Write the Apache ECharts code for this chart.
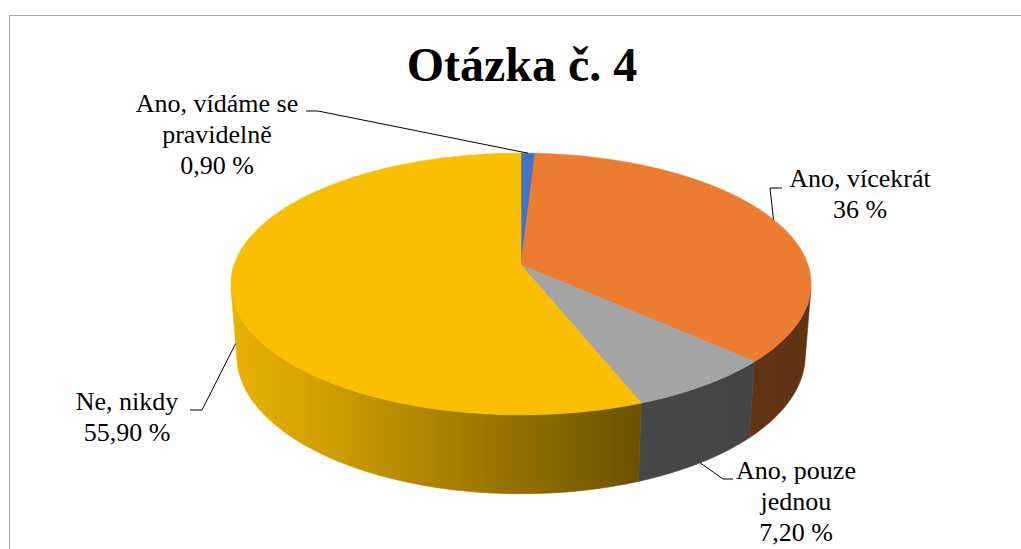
<!DOCTYPE html>
<html><head><meta charset="utf-8">
<script src="https://cdn.jsdelivr.net/npm/echarts@6/dist/echarts.min.js"></script>
<style>html,body{margin:0;padding:0;background:#fff}#c{width:1021px;height:549px}</style>
</head><body><div id="c"></div>
<script>
// ---- data ----
const categories = ['Ano, vídáme se pravidelně', 'Ano, vícekrát', 'Ano, pouze jednou', 'Ne, nikdy'];
const labelNames = ['Ano, vídáme se\npravidelně', 'Ano, vícekrát', 'Ano, pouze\njednou', 'Ne, nikdy'];
const values = [0.9, 36, 7.2, 55.9];
const valueTexts = ['0,90 %', '36 %', '7,20 %', '55,90 %'];
const titleText = 'Otázka č. 4';

// ---- styling / layout ----
const colors = ['#4472C4', '#EB7C31', '#A4A4A4', '#FABF00'];
const CX = 521, CY = 265, F = 1771, DIST = 6.17, EL = 26.5 * Math.PI / 180, DEPTH = 0.281;
const SIN = Math.sin(EL), COS = Math.cos(EL);
const labelCenters = [[217, 134], [860, 194], [796, 501], [127, 417]];
const leaderStart = [[306, 111], [782, 188], [733, 479], [190, 410]];
const leaderElbow = [[318, 111], [770, 188], [723, 479], [202, 410]];
const anchorDepth = [0, 0, 1, 0.75];
const LINE_H = 31;

const measureCtx = document.createElement('canvas').getContext('2d');
function textWidth(t, font) { measureCtx.font = font; return measureCtx.measureText(t).width; }

function proj(theta, r, y) {
  const X = r * Math.sin(theta), Z = -r * Math.cos(theta);
  const yc = Z * SIN - y * COS;
  const zc = DIST - (Z * COS + y * SIN);
  return [CX + F * X / zc, CY + F * yc / zc];
}
const total = values.reduce((a, b) => a + b, 0);
const starts = [];
{ let acc = 0; values.forEach(v => { starts.push(acc); acc += v; }); }
function angles(i) {
  return [starts[i] / total * 2 * Math.PI, (starts[i] + values[i]) / total * 2 * Math.PI];
}
const TMIN = Math.acos(-1 / (DIST * COS)), TMAX = 2 * Math.PI - TMIN;

function shade(hex, k) {
  const n = parseInt(hex.slice(1), 16);
  const r = Math.round(((n >> 16) & 255) * k), g = Math.round(((n >> 8) & 255) * k), b = Math.round((n & 255) * k);
  return 'rgb(' + r + ',' + g + ',' + b + ')';
}
function arc(a, b, r, y, steps) {
  const pts = [];
  for (let k = 0; k <= steps; k++) pts.push(proj(a + (b - a) * k / steps, r, y));
  return pts;
}

const seriesData = values.map((v, i) => ({ name: categories[i], value: [i, v] }));

function renderSide(params, api) {
  const i = params.dataIndex;
  const [t1, t2] = angles(i);
  const a = Math.max(t1, TMIN), b = Math.min(t2, TMAX);
  if (a >= b) return { type: 'group', children: [] };
  const steps = Math.max(2, Math.ceil((b - a) / 0.01));
  const pts = arc(a, b, 1, 0, steps).concat(arc(a, b, 1, -DEPTH, steps).reverse());
  const base = colors[i];
  const fill = {
    type: 'linear', x: 232, y: 0, x2: 810, y2: 0, global: true,
    colorStops: [
      { offset: 0, color: shade(base, 0.93) },
      { offset: 0.12, color: shade(base, 0.86) },
      { offset: 0.706, color: shade(base, 0.43) },
      { offset: 1, color: shade(base, 0.41) }
    ]
  };
  return { type: 'polygon', shape: { points: pts }, style: { fill: fill, stroke: fill, lineWidth: 0.6 } };
}

function renderTop(params, api) {
  const i = params.dataIndex;
  const [t1, t2] = angles(i);
  const steps = Math.max(2, Math.ceil((t2 - t1) / 0.01));
  const pts = [proj(0, 0, 0)].concat(arc(t1, t2, 1, 0, steps));
  return { type: 'polygon', shape: { points: pts }, style: { fill: colors[i], stroke: colors[i], lineWidth: 0.6 } };
}

function renderLabel(params, api) {
  const i = params.dataIndex;
  const [t1, t2] = angles(i);
  const mid = (t1 + t2) / 2;
  const anchor = proj(mid, 1, -DEPTH * anchorDepth[i]);
  const c = labelCenters[i];
  const lines = (labelNames[i] + '\n' + valueTexts[i]).split('\n');
  const top = c[1] - (lines.length - 1) * LINE_H / 2;
  const children = [
    { type: 'polyline', shape: { points: [leaderStart[i], leaderElbow[i], anchor] },
      style: { stroke: '#000', lineWidth: 1, fill: null } }
  ];
  lines.forEach((ln, k) => {
    const w = textWidth(ln, "26px 'Liberation Serif'");
    children.push({ type: 'text', style: {
      text: ln, x: c[0] - w / 2, y: top + k * LINE_H, verticalAlign: 'middle',
      fontFamily: 'Liberation Serif', fontSize: 26, fill: '#000' } });
  });
  return { type: 'group', children: children };
}

const titleW = textWidth(titleText, "bold 48px 'Liberation Serif'");
const chart = echarts.init(document.getElementById('c'), null, { renderer: 'svg' });
chart.setOption({
  animation: false,
  backgroundColor: '#fff',
  graphic: [
    { type: 'rect', z: 0, silent: true, shape: { x: 9.5, y: 15.5, width: 1100, height: 700 },
      style: { fill: 'none', stroke: '#A6A6A6', lineWidth: 1 } },
    { type: 'text', z: 10, style: { text: titleText, x: 522 - titleW / 2, y: 64, verticalAlign: 'middle',
        fontFamily: 'Liberation Serif', fontWeight: 'bold', fontSize: 48, fill: '#000' } }
  ],
  series: [
    { type: 'custom', name: 'side', coordinateSystem: 'none', z: 2, silent: true, data: seriesData, renderItem: renderSide },
    { type: 'custom', name: 'top', coordinateSystem: 'none', z: 3, silent: true, data: seriesData, renderItem: renderTop },
    { type: 'custom', name: 'labels', coordinateSystem: 'none', z: 4, silent: true, data: seriesData, renderItem: renderLabel }
  ]
});
</script>
</body></html>
